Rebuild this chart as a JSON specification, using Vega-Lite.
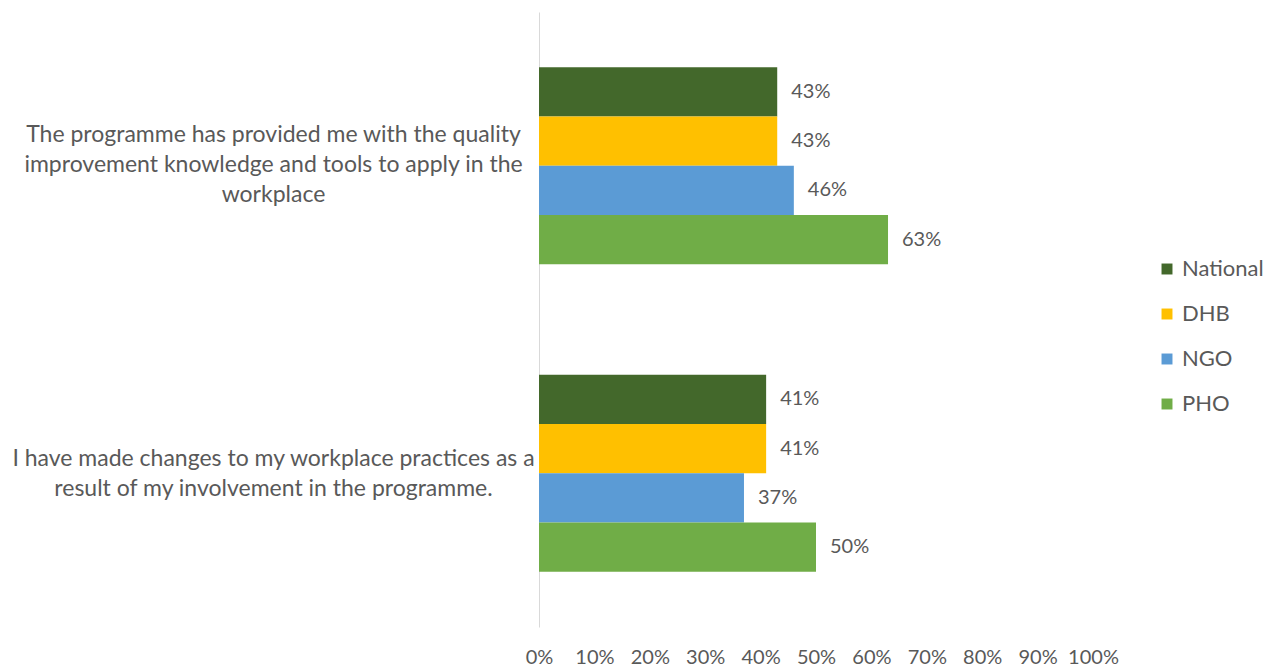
{
  "$schema": "https://vega.github.io/schema/vega-lite/v6.json",
  "autosize": {"type": "none"},
  "padding": {"left": 539, "top": 12, "right": 181, "bottom": 41},
  "width": 554,
  "height": 615,
  "background": "white",
  "config": {
    "view": {"stroke": null},
    "font": "Lato",
    "text": {"font": "Lato"}
  },
  "data": {
    "values": [
      {"question": "The programme has provided me with the quality improvement knowledge and tools to apply in the workplace", "group": "National", "value": 0.43},
      {"question": "The programme has provided me with the quality improvement knowledge and tools to apply in the workplace", "group": "DHB", "value": 0.43},
      {"question": "The programme has provided me with the quality improvement knowledge and tools to apply in the workplace", "group": "NGO", "value": 0.46},
      {"question": "The programme has provided me with the quality improvement knowledge and tools to apply in the workplace", "group": "PHO", "value": 0.63},
      {"question": "I have made changes to my workplace practices as a result of my involvement in the programme.", "group": "National", "value": 0.41},
      {"question": "I have made changes to my workplace practices as a result of my involvement in the programme.", "group": "DHB", "value": 0.41},
      {"question": "I have made changes to my workplace practices as a result of my involvement in the programme.", "group": "NGO", "value": 0.37},
      {"question": "I have made changes to my workplace practices as a result of my involvement in the programme.", "group": "PHO", "value": 0.50}
    ]
  },
  "encoding": {
    "y": {
      "field": "question",
      "type": "nominal",
      "sort": null,
      "title": null,
      "scale": {"paddingInner": 0.36, "paddingOuter": 0.18},
      "axis": {
        "ticks": false,
        "domainColor": "#D9D9D9",
        "domainWidth": 1,
        "labelAlign": "center",
        "labelBaseline": "middle",
        "labelPadding": 266,
        "labelFont": "Lato",
        "labelFontSize": 23,
        "labelColor": "#595959",
        "labelLineHeight": 30,
        "labelLimit": 0,
        "labelOffset": {"condition": {"test": "indexof(datum.value, 'The programme') == 0", "value": -31}, "value": -14},
        "labelExpr": "indexof(datum.value, 'The programme') == 0 ? ['The programme has provided me with the quality', 'improvement knowledge and tools to apply in the', 'workplace'] : ['I have made changes to my workplace practices as a', 'result of my involvement in the programme.']"
      }
    },
    "yOffset": {
      "field": "group",
      "type": "nominal",
      "sort": ["National", "DHB", "NGO", "PHO"],
      "scale": {"paddingInner": 0, "paddingOuter": 0}
    },
    "x": {
      "field": "value",
      "type": "quantitative",
      "title": null,
      "scale": {"domain": [0, 1]},
      "axis": {
        "values": [0, 0.1, 0.2, 0.3, 0.4, 0.5, 0.6, 0.7, 0.8, 0.9, 1],
        "format": ".0%",
        "domain": false,
        "ticks": false,
        "grid": false,
        "labelPadding": 20,
        "labelFont": "Lato",
        "labelFontSize": 20,
        "labelColor": "#595959",
        "labelFlush": false
      }
    }
  },
  "layer": [
    {
      "mark": {"type": "bar"},
      "encoding": {
        "color": {
          "field": "group",
          "type": "nominal",
          "sort": ["National", "DHB", "NGO", "PHO"],
          "scale": {"domain": ["National", "DHB", "NGO", "PHO"], "range": ["#43682B", "#FFC000", "#5B9BD5", "#70AD47"]},
          "legend": {
            "title": null,
            "orient": "none",
            "legendX": 617,
            "legendY": 246,
            "symbolType": "square",
            "symbolSize": 120,
            "symbolStrokeWidth": 0,
            "labelFont": "Lato",
            "labelFontSize": 22,
            "labelColor": "#595959",
            "labelOffset": 4,
            "rowPadding": 23
          }
        }
      }
    },
    {
      "mark": {"type": "text", "align": "left", "baseline": "middle", "dx": 14, "font": "Lato", "fontSize": 20, "color": "#595959"},
      "encoding": {
        "text": {"field": "value", "type": "quantitative", "format": ".0%"}
      }
    }
  ]
}
